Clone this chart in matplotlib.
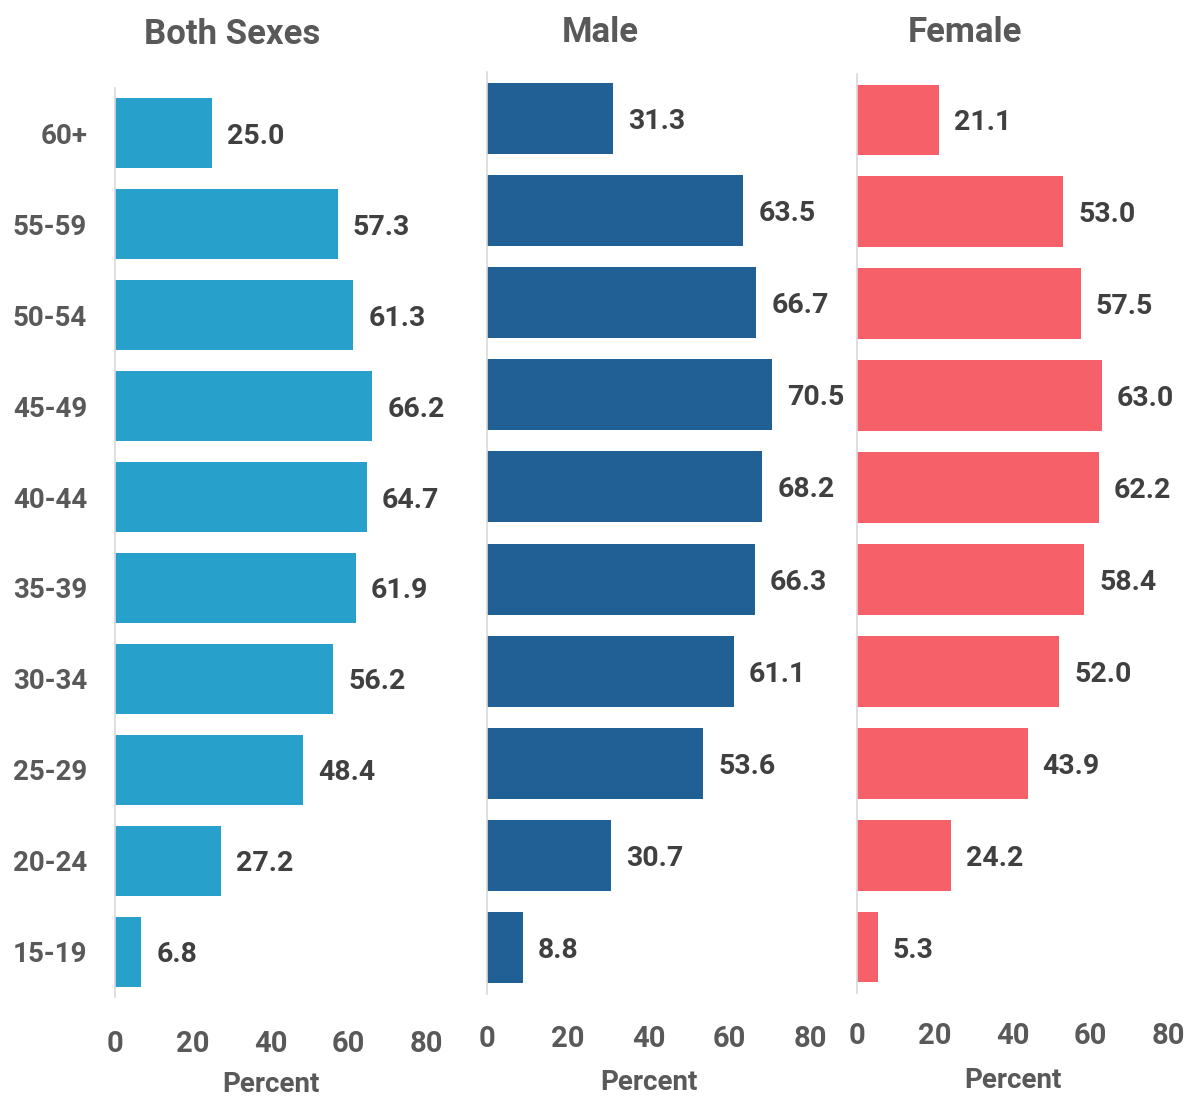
import matplotlib
matplotlib.use("Agg")
import matplotlib.pyplot as plt

plt.rcParams['font.family'] = ['Roboto', 'DejaVu Sans']
plt.rcParams['font.weight'] = 'bold'

age_groups = ["60+", "55-59", "50-54", "45-49", "40-44", "35-39", "30-34", "25-29", "20-24", "15-19"]
both_sexes = [25.0, 57.3, 61.3, 66.2, 64.7, 61.9, 56.2, 48.4, 27.2, 6.8]
male = [31.3, 63.5, 66.7, 70.5, 68.2, 66.3, 61.1, 53.6, 30.7, 8.8]
female = [21.1, 53.0, 57.5, 63.0, 62.2, 58.4, 52.0, 43.9, 24.2, 5.3]
titles = ["Both Sexes", "Male", "Female"]
xticks = [0, 20, 40, 60, 80]

W, H = 1191, 1099
fig = plt.figure(figsize=(W / 100, H / 100), dpi=100)

# panel geometry in pixels: (left, right_at_80, top, bottom)
panels = [
    (115, 426, 88, 997),
    (487, 810, 72, 994),
    (857, 1168, 74, 993),
]
title_pos = [(232, 35), (600, 33), (965, 33)]
colors = ["#27A0CC", "#206095", "#F66068"]
series = [both_sexes, male, female]
tick_pads = [24, 22, 21]
label_pads = [9, 12, 12]

for i, (vals, col) in enumerate(zip(series, colors)):
    l, r, t, b = panels[i]
    ax = fig.add_axes([l / W, 1 - b / H, (r - l) / W, (b - t) / H])
    y = list(range(len(age_groups)))
    ax.barh(y, vals, height=0.77, color=col, edgecolor='none')
    ax.set_ylim(len(age_groups) - 0.5, -0.5)
    ax.set_xlim(0, 80)
    for yi, v in zip(y, vals):
        ax.annotate(f"{v:.1f}", (v, yi), xytext=(15, -3), textcoords='offset pixels',
                    ha='left', va='center', fontsize=20.5, fontweight='bold', color='#404040')
    for s in ['top', 'right', 'bottom']:
        ax.spines[s].set_visible(False)
    ax.spines['left'].set_color('#d9d9d9')
    ax.spines['left'].set_linewidth(1.2)
    ax.set_xticks(xticks)
    ax.set_xticklabels([str(x) for x in xticks])
    ax.tick_params(axis='x', length=0, pad=tick_pads[i], labelsize=21, labelcolor='#595959')
    ax.set_xlabel("Percent", fontsize=20, fontweight='bold', color='#595959', labelpad=label_pads[i])
    if i == 0:
        ax.set_yticks(y)
        ax.set_yticklabels(age_groups)
        ax.tick_params(axis='y', length=0, pad=20, labelsize=20, labelcolor='#595959')
    else:
        ax.set_yticks([])
    tx, ty = title_pos[i]
    fig.text(tx / W, 1 - ty / H, titles[i], ha='center', va='center',
             fontsize=25, fontweight='bold', color='#595959')

fig.savefig("out.png", dpi=100, facecolor='white')
